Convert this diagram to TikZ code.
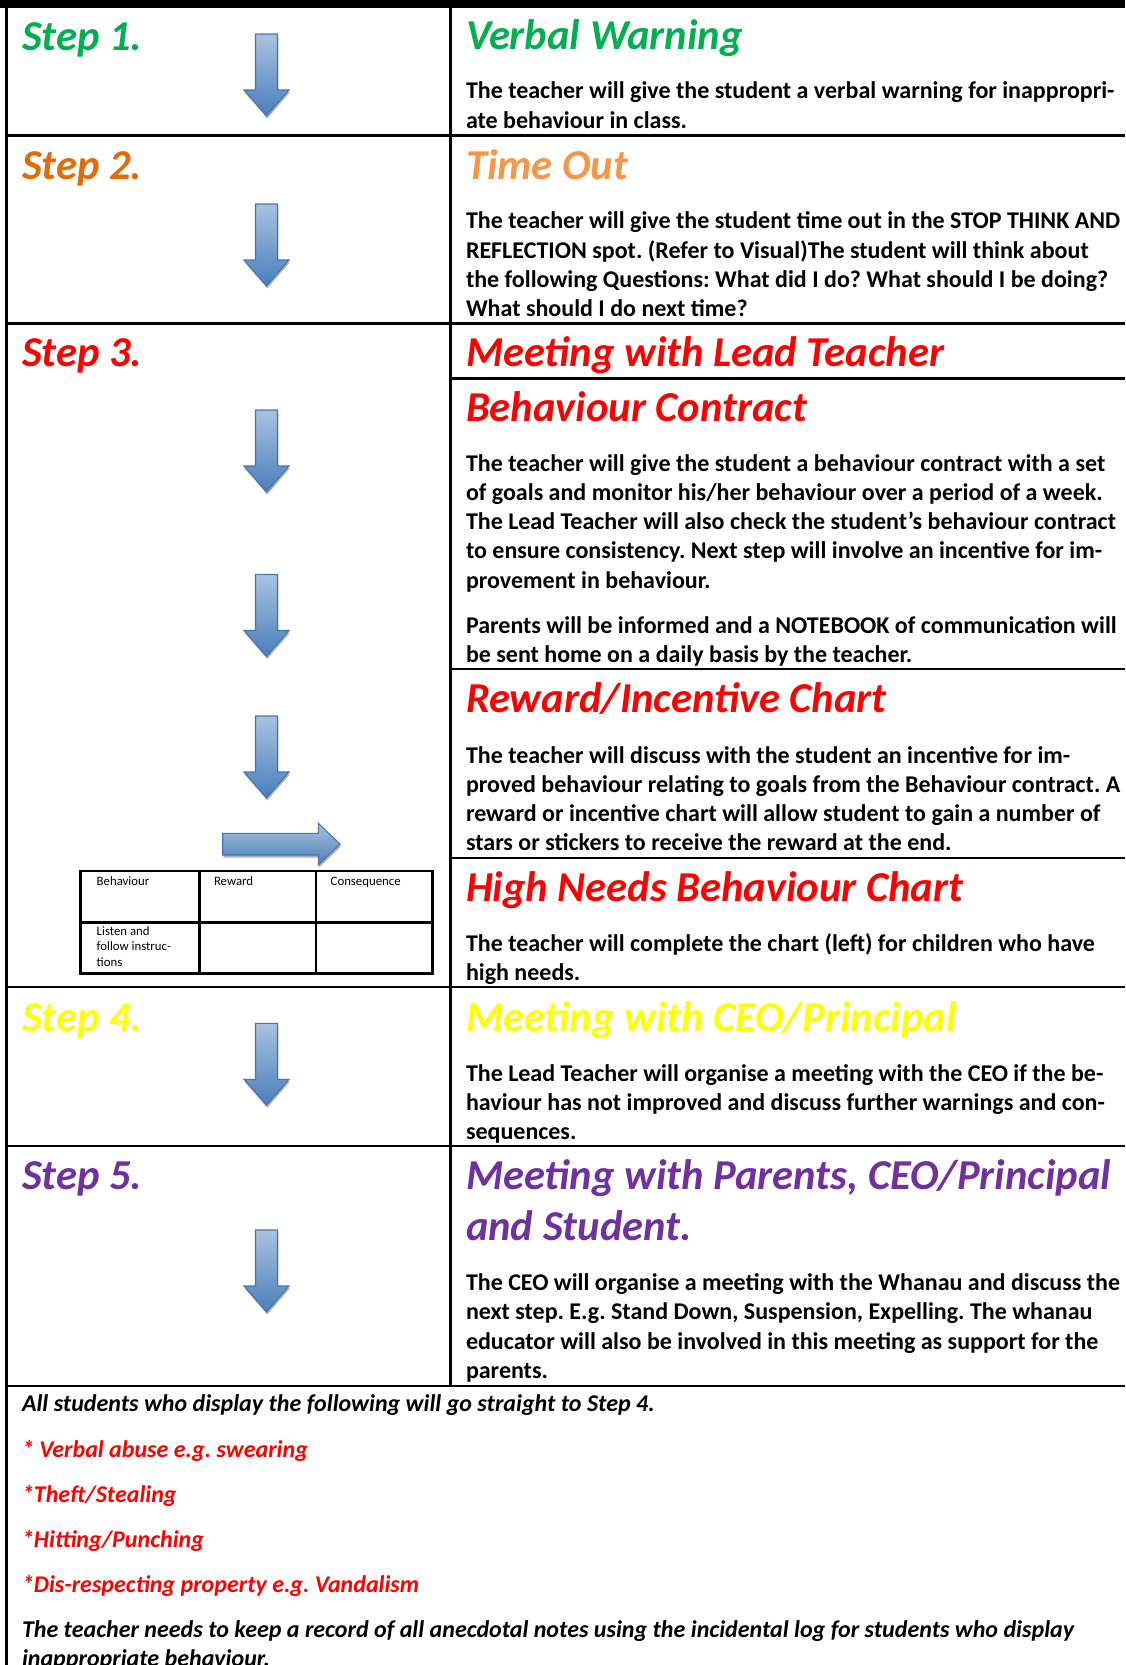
\documentclass[tikz,border=0pt]{standalone}
\usepackage{fontspec}
\setmainfont{Carlito}
\frenchspacing
\definecolor{sgreen}{HTML}{00B050}
\definecolor{sorange}{HTML}{E36C0A}
\definecolor{lorange}{HTML}{F79646}
\definecolor{sred}{HTML}{FF0000}
\definecolor{syellow}{HTML}{FFFF00}
\definecolor{spurple}{HTML}{7030A0}
\definecolor{arrlight}{HTML}{AAC2E1}
\definecolor{arrdark}{HTML}{4A7EBB}
\definecolor{arrline}{HTML}{4677B5}
\newcommand\hdfont{\fontsize{42.6}{51.6}\selectfont\bfseries\itshape}
\newcommand\bdfont{\fontsize{24}{29.3}\selectfont\bfseries}
\newcommand\btfont{\fontsize{24}{29.3}\selectfont\bfseries\itshape}
\newcommand\tbfont{\fontsize{12.8}{15.8}\selectfont}
\newcommand\mlines[2]{\parbox[t]{1100pt}{#1\raggedright #2}}
\newcommand\vArrowPath[1]{(255.5,#1) -- (277.5,#1) -- (277.5,{#1+56}) -- (289,{#1+56}) -- (266.5,{#1+82})
    -- (244,{#1+56}) -- (255.5,{#1+56}) -- cycle}
\newcommand\vArrowShape[1]{%
  \fill[gray!60, shift={(0.8,2.4)}] \vArrowPath{#1};
  \shadedraw[top color=arrlight, bottom color=arrdark, draw=arrline, line width=1.1pt] \vArrowPath{#1};}
\begin{document}
\begin{tikzpicture}[x=1pt,y=-1pt,
  txt/.style={anchor=base west, inner sep=0pt, outer sep=0pt},
  hd/.style={txt, font=\hdfont},
  rule/.style={line width=2.6pt},
  tline/.style={line width=2.7pt, line cap=rect}]
\path[use as bounding box] (0,0) rectangle (1125,1665);
\clip (0,0) rectangle (1125,1665);
\fill[white] (0,0) rectangle (1125,1665);

% grid
\fill[black] (0,0) rectangle (1125,8);
\draw[line width=3pt] (6.3,0) -- (6.3,1665);
\draw[line width=3pt] (450,0) -- (450,1386);
\foreach \yy in {135.5,323.5,987,1146,1386} \draw[rule] (5,\yy) -- (1125,\yy);
\foreach \yy in {378.5,669,858} \draw[rule] (450,\yy) -- (1125,\yy);

% step labels
\node[hd, text=sgreen]  (s1) at (22,50)     {Step 1.};
\node[hd, text=sorange] (s2) at (22,179)    {Step 2.};
\node[hd, text=sred]    (s3) at (22,366.5)  {Step 3.};
\node[hd, text=syellow] (s4) at (22,1031)   {Step 4.};
\node[hd, text=spurple] (s5) at (22,1189)   {Step 5.};

% headings
\node[hd, text=sgreen]  (h1) at (466,49.5)  {Verbal Warning};
\node[hd, text=lorange] (h2) at (466,179)   {Time Out};
\node[hd, text=sred]    (h3) at (466,366.5) {Meeting with Lead Teacher};
\node[hd, text=sred]    (h3b) at (466,421)  {Behaviour Contract};
\node[hd, text=sred]    (h3c) at (466,712)  {Reward/Incentive Chart};
\node[hd, text=sred]    (h3d) at (466,901)  {High Needs Behaviour Chart};
\node[hd, text=syellow] (h4) at (466,1031)  {Meeting with CEO/Principal};
\node[txt, text=spurple] (h5) at (466,1189) {\mlines{\hdfont}{Meeting with Parents, CEO/Principal\\and Student.}};

% bodies
\node[txt] (b1) at (466,98.7) {\mlines{\bdfont}{The teacher will give the student a verbal warning for inappropri-\\ate behaviour in class.}};
\node[txt] (b2) at (466,228.7) {\mlines{\bdfont}{The teacher will give the student time out in the STOP THINK AND\\REFLECTION spot. (Refer to Visual)The student will think about\\the following Questions: What did I do? What should I be doing?\\What should I do next time?}};
\node[txt] (b3) at (466,471) {\mlines{\bdfont}{The teacher will give the student a behaviour contract with a set\\of goals and monitor his/her behaviour over a period of a week.\\The Lead Teacher will also check the student’s behaviour contract\\to ensure consistency. Next step will involve an incentive for im-\\provement in behaviour.}};
\node[txt] (b3p) at (466,633.5) {\mlines{\bdfont}{Parents will be informed and a NOTEBOOK of communication will\\be sent home on a daily basis by the teacher.}};
\node[txt] (b3c) at (466,763) {\mlines{\bdfont}{The teacher will discuss with the student an incentive for im-\\proved behaviour relating to goals from the Behaviour contract. A\\reward or incentive chart will allow student to gain a number of\\stars or stickers to receive the reward at the end.}};
\node[txt] (b3d) at (466,951.5) {\mlines{\bdfont}{The teacher will complete the chart (left) for children who have\\high needs.}};
\node[txt] (b4) at (466,1081) {\mlines{\bdfont}{The Lead Teacher will organise a meeting with the CEO if the be-\\haviour has not improved and discuss further warnings and con-\\sequences.}};
\node[txt] (b5) at (466,1290.5) {\mlines{\bdfont}{The CEO will organise a meeting with the Whanau and discuss the\\next step. E.g. Stand Down, Suspension, Expelling. The whanau\\educator will also be involved in this meeting as support for the\\parents.}};

% bottom section
\node[txt, font=\btfont] (n0) at (22,1411.5) {All students who display the following will go straight to Step 4.};
\node[txt, font=\btfont, text=sred] (n1) at (22,1457) {* Verbal abuse e.g. swearing};
\node[txt, font=\btfont, text=sred] (n2) at (22,1502) {*Theft/Stealing};
\node[txt, font=\btfont, text=sred] (n3) at (22,1547.5) {*Hitting/Punching};
\node[txt, font=\btfont, text=sred] (n4) at (22,1592.5) {*Dis-respecting property e.g. Vandalism};
\node[txt] (n5) at (22,1637.5) {\mlines{\btfont}{The teacher needs to keep a record of all anecdotal notes using the incidental log for students who display\\inappropriate behaviour.}};

% arrows
\vArrowShape{34}
\vArrowShape{204}
\vArrowShape{410}
\vArrowShape{574.5}
\vArrowShape{716}
\vArrowShape{1023.3}
\vArrowShape{1230}
% horizontal arrow
\newcommand\hArrowPath{(222.7,833.3) -- (318.3,833.3) -- (318.3,823.3) -- (340,844) -- (318.3,865) -- (318.3,855) -- (222.7,855) -- cycle}
\fill[gray!60, shift={(0.8,2.6)}] \hArrowPath;
\shadedraw[top color=arrlight, bottom color=arrdark, draw=arrline, line width=1.1pt] \hArrowPath;

% small table
\draw[tline] (80.7,871) rectangle (432.7,973.3);
\draw[tline] (80.7,922.7) -- (432.7,922.7);
\draw[tline] (199.3,871) -- (199.3,973.3);
\draw[tline] (316,871) -- (316,973.3);
\node[txt, font=\tbfont] (t1) at (96.7,885) {Behaviour};
\node[txt, font=\tbfont] (t2) at (214,885) {Reward};
\node[txt, font=\tbfont] (t3) at (330.7,885) {Consequence};
\node[txt] (t4) at (96.7,935) {\mlines{\tbfont}{Listen and\\follow instruc-\\tions}};
\end{tikzpicture}
\end{document}
